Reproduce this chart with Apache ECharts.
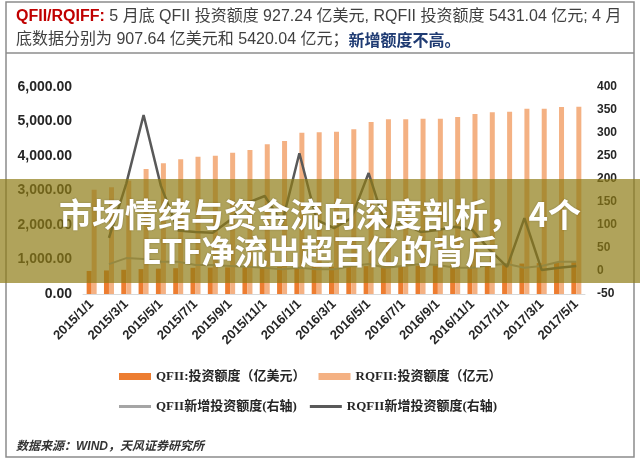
<!DOCTYPE html>
<html>
<head>
<meta charset="utf-8">
<script src="https://cdn.jsdelivr.net/npm/echarts@6/dist/echarts.min.js"></script>
<style>
html,body{margin:0;padding:0;background:#fff;}
#c{width:640px;height:463px;}
</style>
</head>
<body>
<div id="c"></div>
<script>
const categories = [
  '2015/1/1','2015/2/1','2015/3/1','2015/4/1','2015/5/1','2015/6/1','2015/7/1','2015/8/1','2015/9/1','2015/10/1','2015/11/1','2015/12/1',
  '2016/1/1','2016/2/1','2016/3/1','2016/4/1','2016/5/1','2016/6/1','2016/7/1','2016/8/1','2016/9/1','2016/10/1','2016/11/1','2016/12/1',
  '2017/1/1','2017/2/1','2017/3/1','2017/4/1','2017/5/1'
];
const qfiiQuota = [668, 683, 702, 722, 735, 748, 760, 765, 772, 778, 781, 784, 786, 790, 793, 798, 808, 812, 818, 826, 838, 846, 858, 868, 873, 882, 895, 907.64, 927.24];
const rqfiiQuota = [3022, 3094, 3284, 3623, 3788, 3904, 3980, 4009, 4096, 4174, 4339, 4435, 4675, 4690, 4704, 4774, 4986, 5064, 5064, 5081, 5081, 5130, 5217, 5267, 5284, 5371, 5371, 5420.04, 5431.04];
const qfiiNew = [null, 15, 28, 26, 20, 20, 13, 13, 11, 9, 7, 4, 7, 4, 4, 11, 15, 7, 11, 15, 13, 7, 7, 13, 15, 7, 11, 20, 20];
const rqfiiNew = [null, 72, 190, 339, 185, 88, 85, 83, 111, 148, 163, 104, 256, 111, 93, 115, 213, 96, 104, 85, 89, 96, 89, 46, 9, 115, 2, 7, 11];
const seriesNames = ['QFII:投资额度（亿美元）', 'RQFII:投资额度（亿元）', 'QFII新增投资额度(右轴)', 'RQFII新增投资额度(右轴)'];
const headerLine1 = ['QFII/RQIFF:', ' 5 月底 QFII 投资额度 927.24 亿美元, RQFII 投资额度 5431.04 亿元; 4 月'];
const headerLine2 = ['底数据分别为 907.64 亿美元和 5420.04 亿元；', '新增额度不高。'];
const titleLines = ['市场情绪与资金流向深度剖析， 4个', 'ETF净流出超百亿的背后'];
const sourceText = '数据来源：WIND，天风证券研究所';

const SANS = '"Liberation Sans", Arial, "Noto Sans CJK SC", sans-serif';
const SERIF = '"Liberation Serif", "Times New Roman", "Noto Sans CJK SC", serif';
const CJK = '"Noto Sans CJK SC", "Liberation Sans", sans-serif';

const chart = echarts.init(document.getElementById('c'), null, {renderer: 'canvas'});
const option = {
  animation: false,
  backgroundColor: '#ffffff',
  grid: {left: 83, right: 55, top: 87, bottom: 169},
  xAxis: {
    type: 'category',
    data: categories,
    boundaryGap: true,
    axisLine: {lineStyle: {color: '#D9D9D9', width: 1}},
    axisTick: {interval: 1, length: 4, lineStyle: {color: '#B4C6E7'}},
    axisLabel: {interval: 1, rotate: 45, fontSize: 13, fontWeight: 'bold', color: '#262626', fontFamily: SANS, margin: 8}
  },
  yAxis: [
    {
      type: 'value', min: 0, max: 6000, interval: 1000,
      splitLine: {show: false}, axisLine: {show: false}, axisTick: {show: false},
      axisLabel: {
        fontSize: 14, fontWeight: 'bold', color: '#262626', fontFamily: SANS, margin: 11,
        formatter: v => v.toLocaleString('en-US', {minimumFractionDigits: 2, maximumFractionDigits: 2})
      }
    },
    {
      type: 'value', min: -50, max: 400, interval: 50, position: 'right',
      splitLine: {show: false}, axisLine: {show: false}, axisTick: {show: false},
      axisLabel: {fontSize: 12, fontWeight: 'bold', color: '#262626', fontFamily: SANS, margin: 12}
    }
  ],
  legend: [
    {
      data: [seriesNames[0], seriesNames[1]], left: 119, top: 370, padding: 0,
      itemWidth: 32, itemHeight: 7, itemGap: 13, icon: 'rect',
      textStyle: {fontFamily: SERIF, fontSize: 13, fontWeight: 'bold', color: '#262626'}
    },
    {
      data: [seriesNames[2], seriesNames[3]], left: 119, top: 400, padding: 0,
      itemWidth: 32, itemHeight: 3, itemGap: 13, icon: 'rect',
      textStyle: {fontFamily: SERIF, fontSize: 13, fontWeight: 'bold', color: '#262626'}
    }
  ],
  series: [
    {name: seriesNames[0], type: 'bar', data: qfiiQuota, barWidth: 5, barGap: '0%', itemStyle: {color: '#ED7D31'}},
    {name: seriesNames[1], type: 'bar', data: rqfiiQuota, barWidth: 5, barGap: '0%', itemStyle: {color: '#F4B183'}},
    {name: seriesNames[2], type: 'line', yAxisIndex: 1, data: qfiiNew, symbol: 'none', showSymbol: false,
     lineStyle: {color: '#A5A5A5', width: 2}, itemStyle: {color: '#A5A5A5'}},
    {name: seriesNames[3], type: 'line', yAxisIndex: 1, data: rqfiiNew, symbol: 'none', showSymbol: false,
     lineStyle: {color: '#595959', width: 2.5}, itemStyle: {color: '#595959'}}
  ],
  graphic: [
    {type: 'rect', silent: true, z: 0, shape: {x: 6, y: 2, width: 628, height: 455},
     style: {fill: 'none', stroke: '#8C8C8C', lineWidth: 1.5}},
    {type: 'line', silent: true, z: 0, shape: {x1: 6, y1: 53, x2: 634, y2: 53},
     style: {stroke: '#8C8C8C', lineWidth: 1.5}},
    {type: 'text', silent: true, z: 0, x: 16, y: 17,
     style: {
       text: '{r|' + headerLine1[0] + '}{n|' + headerLine1[1] + '}',
       verticalAlign: 'middle',
       rich: {
         r: {fontFamily: SANS, fontSize: 16, fontWeight: 'bold', fill: '#C00000'},
         n: {fontFamily: SANS, fontSize: 16, fill: '#404040'}
       }
     }},
    {type: 'text', silent: true, z: 0, x: 16, y: 40,
     style: {
       text: '{n|' + headerLine2[0] + '}{b|' + headerLine2[1] + '}',
       verticalAlign: 'middle',
       rich: {
         n: {fontFamily: SANS, fontSize: 16, fill: '#404040'},
         b: {fontFamily: CJK, fontSize: 16, fontWeight: 'bold', fill: '#1F3B73'}
       }
     }},
    {type: 'text', silent: true, z: 0, x: 16, y: 447,
     style: {text: sourceText, fontFamily: SANS, fontSize: 12, fontStyle: 'italic', fontWeight: 'bold',
             fill: '#333333', verticalAlign: 'middle'}},
    {type: 'rect', silent: true, z: 100, shape: {x: 0, y: 179, width: 640, height: 104},
     style: {fill: 'rgba(142,124,22,0.70)'}},
    {type: 'text', silent: true, z: 101, x: 320, y: 214,
     style: {text: titleLines[0], fontFamily: CJK, fontSize: 33, fontWeight: 'bold', fill: '#FFFFFF',
             align: 'center', verticalAlign: 'middle', textShadowColor: 'rgba(0,0,0,0.25)', textShadowBlur: 2}},
    {type: 'text', silent: true, z: 101, x: 320, y: 251,
     style: {text: titleLines[1], fontFamily: CJK, fontSize: 33, fontWeight: 'bold', fill: '#FFFFFF',
             align: 'center', verticalAlign: 'middle', textShadowColor: 'rgba(0,0,0,0.25)', textShadowBlur: 2}}
  ]
};
chart.setOption(option);
</script>
</body>
</html>
